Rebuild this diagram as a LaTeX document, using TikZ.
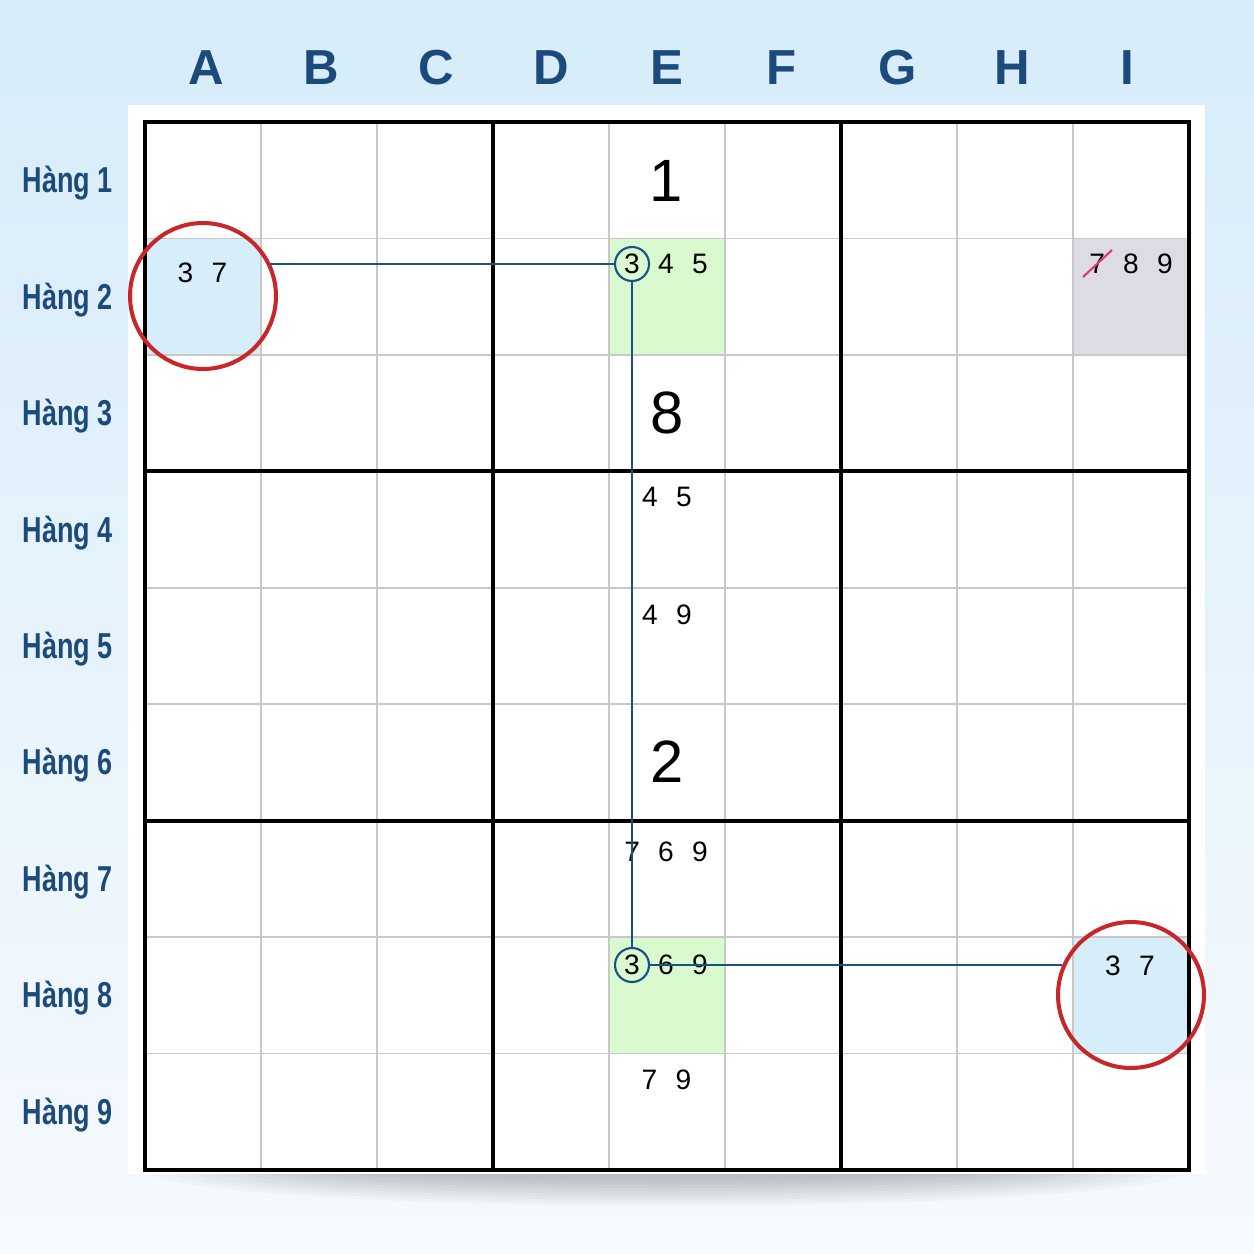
\documentclass[tikz,border=0pt]{standalone}
\usepackage{fontspec}
\setmainfont{Liberation Sans}
\newfontfamily\rowfont[FakeStretch=0.75]{Liberation Sans}
\usetikzlibrary{positioning}
\definecolor{labelblue}{RGB}{28,74,122}
\definecolor{linkblue}{RGB}{28,78,135}
\definecolor{ringred}{RGB}{200,38,42}
\definecolor{skyfill}{RGB}{214,238,250}
\definecolor{pairgreen}{RGB}{216,250,206}
\definecolor{elimgray}{RGB}{221,219,227}
\definecolor{bgtop}{RGB}{214,236,250}
\definecolor{bgbottom}{RGB}{246,250,253}
\definecolor{thingray}{RGB}{200,200,200}
\definecolor{strikepink}{RGB}{222,60,110}
\newcommand{\dgap}{\hspace{10.4pt}}

\tikzset{
  collabel/.style={font=\fontsize{28}{31}\selectfont\bfseries, text=labelblue},
  rowlabel/.style={font=\rowfont\fontsize{20.5}{24}\selectfont\bfseries, text=labelblue, anchor=base},
  cand/.style={font=\fontsize{16}{19}\selectfont, inner sep=0pt},
  given/.style={font=\fontsize{34}{38}\selectfont, inner sep=0pt},
  pin/.style={cand, circle, draw=linkblue, line width=1.2pt, minimum size=0.68cm},
  ring/.style={circle, draw=ringred, line width=2.3pt, minimum size=2.92cm, inner sep=0pt},
  thinline/.style={thingray, line width=0.85pt},
  boxline/.style={black, line width=2.4pt},
  link/.style={linkblue, line width=1.3pt}
}

\begin{document}
\begin{tikzpicture}[x=0.02cm, y=-0.02cm]
    \useasboundingbox (0,0) rectangle (1254,1254);
    \shade[top color=bgtop, bottom color=bgbottom] (0,0) rectangle (1254,1254);

    % soft shadow under the board
    \foreach \k in {0,...,9}
        \fill[black, opacity=0.025] (667,1170) ellipse ({520-\k*22} and {36-\k*3});
    \fill[white] (128,105) rectangle (1205,1174);

    % highlighted cells
    \fill[skyfill] (145,238.4) rectangle (261,354.9);
    \fill[pairgreen] (609,238.4) rectangle (725,354.9);
    \fill[elimgray] (1073,238.4) rectangle (1189,354.9);
    \fill[pairgreen] (609,937.1) rectangle (725,1053.6);
    \fill[skyfill] (1073,937.1) rectangle (1189,1053.6);

    % grid
    \foreach \i in {1,...,8} {
        \draw[thinline] ({145+\i*116},122) -- ({145+\i*116},1170);
        \draw[thinline] (145,{122+\i*116.44}) -- (1189,{122+\i*116.44});
    }
    \foreach \i in {3,6} {
        \draw[boxline] ({145+\i*116},122) -- ({145+\i*116},1170);
        \draw[boxline] (145,{122+\i*116.44}) -- (1189,{122+\i*116.44});
    }
    \draw[boxline, line width=2.6pt] (145,122) rectangle (1189,1170);

    % column and row labels
    \foreach \c [count=\i] in {A,B,C,D,E,F,G,H,I}
        \node[collabel] (col\c) at ({206+(\i-1)*115.2},68) {\c};
    \foreach \r in {1,...,9}
        \node[rowlabel] (row\r) at (68,{122+(\r-0.5)*116.44+12.5}) {Hàng \r};

    % givens
    \node[given] (e1) at (666,181) {1};
    \node[given] (e3) at (667,413) {8};
    \node[given] (e6) at (667,762) {2};

    % candidates
    \node[cand] (a2) at (202.5,273) {3\dgap7};
    \node[pin] (e2pin) at (632,264) {3};
    \node[cand] (e2) at (683,264) {4\dgap5};
    \node[cand] (i2) at (1131,264) {7\dgap8\dgap9};
    \node[cand] (e4) at (667,497) {4\dgap5};
    \node[cand] (e5) at (667,615) {4\dgap9};
    \node[cand] (e7) at (666,852) {7\dgap6\dgap9};
    \node[pin] (e8pin) at (632,965) {3};
    \node[cand] (e8) at (683,965) {6\dgap9};
    \node[cand] (i8) at (1130,966) {3\dgap7};
    \node[cand] (e9) at (666.5,1080) {7\dgap9};

    % eliminated 7
    \draw[strikepink, line width=1.2pt] (1083,277) -- (1112,250);

    % chain
    \node[ring] (a2ring) at (203,296) {};
    \node[ring] (i8ring) at (1131,995) {};
    \draw[link] (a2ring.27 |- e2pin.west) -- (e2pin.west);
    \draw[link] (e2pin.south) -- (e8pin.north);
    \draw[link] (e8pin.east) -- (e8pin.east -| i8ring.156);
\end{tikzpicture}
\end{document}
